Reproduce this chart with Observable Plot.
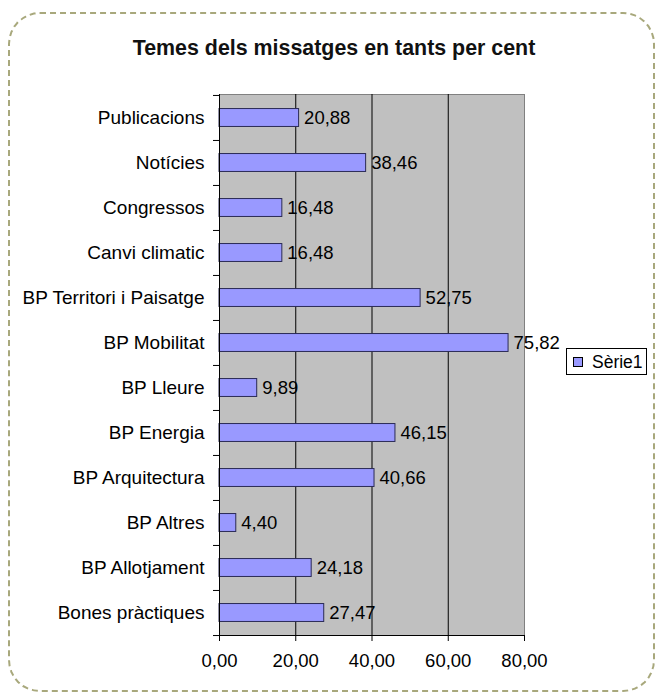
<!DOCTYPE html>
<html><head><meta charset="utf-8">
<script src="https://cdn.jsdelivr.net/npm/d3@7"></script>
<script src="https://cdn.jsdelivr.net/npm/@observablehq/plot@0.6"></script>
<style>
html,body{margin:0;padding:0;background:#fff;}
#wrap{position:relative;width:660px;height:693px;font-family:"Liberation Sans",Arial,sans-serif;overflow:hidden;}
#border{position:absolute;left:8px;top:12px;width:647px;height:680px;border:2px dashed #a8a87c;border-radius:32px;box-sizing:border-box;}
#title{position:absolute;left:4px;top:36px;width:660px;text-align:center;font-weight:bold;font-size:21.4px;line-height:24px;color:#111;}
#chart{position:absolute;left:0;top:0;}
#legend{position:absolute;left:566px;top:348px;width:81px;height:27px;border:1px solid #000;background:#fff;box-sizing:border-box;}
#legend .sw{position:absolute;left:6px;top:8px;width:10px;height:10px;background:#9999ff;border:1px solid #000;box-sizing:border-box;}
#legend .tx{position:absolute;left:25px;top:3px;font-size:17.5px;line-height:20px;color:#000;}
</style></head>
<body>
<div id="wrap">
  <div id="border"></div>
  <div id="chart"></div>
  <div id="title">Temes dels missatges en tants per cent</div>
  <div id="legend"><div class="sw"></div><div class="tx">Sèrie1</div></div>
</div>
<script>
const categories = ["Publicacions","Notícies","Congressos","Canvi climatic","BP Territori i Paisatge","BP Mobilitat","BP Lleure","BP Energia","BP Arquitectura","BP Altres","BP Allotjament","Bones pràctiques"];
const values = [20.88, 38.46, 16.48, 16.48, 52.75, 75.82, 9.89, 46.15, 40.66, 4.40, 24.18, 27.47];
const xTicks = [0, 20, 40, 60, 80];
const gridValues = [20, 40, 60];
const seriesName = "Sèrie1";

const data = categories.map((c, i) => ({category: c, value: values[i]}));
const fmt = d => d.toFixed(2).replace(".", ",");

const W = 660, H = 693, mL = 219, mR = 136, mT = 94, mB = 58;
const frameW = W - mL - mR;
const step = (H - mT - mB) / categories.length;
const barThickness = 18;
const inset = (step - barThickness) / 2;
const font = "'Liberation Sans', Arial, sans-serif";
const fs = 19;
const tickLen = 6;

const chart = Plot.plot({
  width: W, height: H,
  marginLeft: mL, marginRight: mR, marginTop: mT, marginBottom: mB,
  style: {fontFamily: font, fontSize: fs + "px", color: "#000", background: "transparent", overflow: "visible"},
  x: {domain: [0, 80]},
  y: {domain: categories, padding: 0},
  marks: [
    Plot.frame({fill: "#c0c0c0", stroke: "#808080"}),
    Plot.ruleX(gridValues, {stroke: "#000", strokeWidth: 1}),
    Plot.barX(data, {x: "value", y: "category", fill: "#9999ff", stroke: "#2a2a55", strokeWidth: 1, insetTop: inset, insetBottom: inset}),
    Plot.ruleX([0], {stroke: "#000"}),
    Plot.frame({anchor: "bottom", stroke: "#000"}),
    Plot.text(data, {x: "value", y: "category", text: d => fmt(d.value), textAnchor: "start", dx: 5, fontSize: fs - 0.5, fill: "#000"}),
    Plot.axisY({anchor: "left", tickSize: 0, tickPadding: 15, label: null, fontSize: fs}),
    Plot.ruleY(categories, {y: d => d, dy: -step / 2, stroke: "#000", strokeWidth: 1, insetLeft: -tickLen, insetRight: frameW}),
    Plot.ruleY([categories[categories.length - 1]], {y: d => d, dy: step / 2, stroke: "#000", strokeWidth: 1, insetLeft: -tickLen, insetRight: frameW}),
    Plot.axisX({ticks: xTicks, tickSize: 6, tickPadding: 12, tickFormat: fmt, label: null, fontSize: fs - 0.5, stroke: "#000"})
  ]
});
document.getElementById("chart").appendChild(chart);
</script>
</body></html>
